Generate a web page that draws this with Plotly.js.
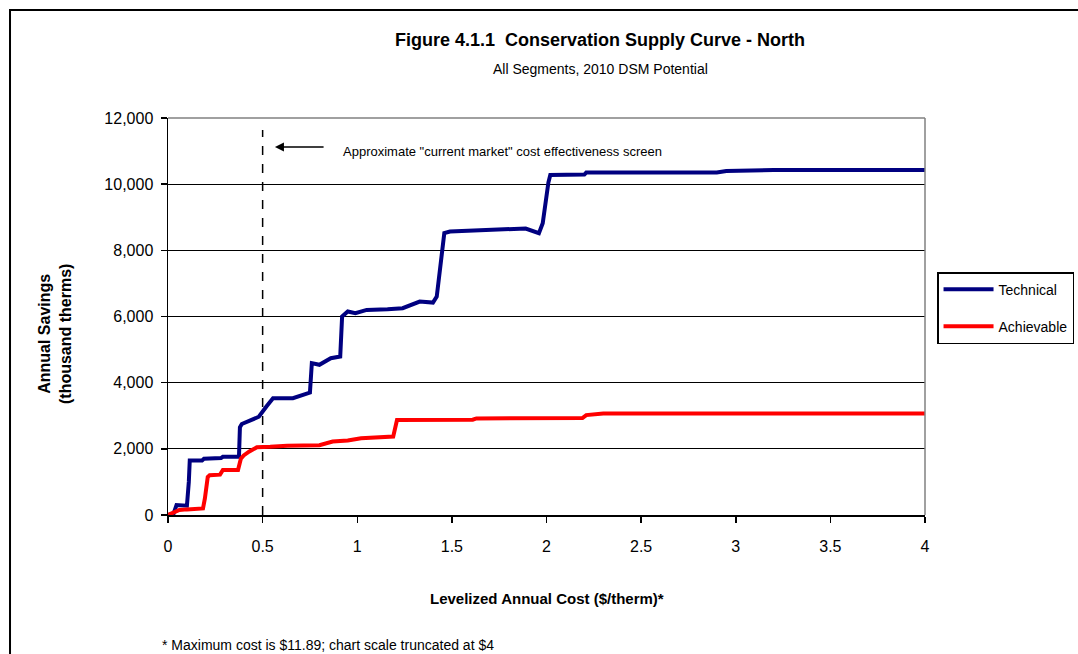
<!DOCTYPE html>
<html>
<head>
<meta charset="utf-8">
<script src="https://cdn.plot.ly/plotly-3.0.1.min.js"></script>
<style>html,body{margin:0;padding:0;background:#fff;}#chart{width:1078px;height:654px;}</style>
</head>
<body>
<div id="chart"></div>
<script>
// ---- Data ----
const techCost = [0, 0.03, 0.045, 0.10, 0.11, 0.115, 0.18, 0.19, 0.28, 0.29, 0.375, 0.38, 0.39, 0.42, 0.48, 0.52, 0.555, 0.66, 0.73, 0.75, 0.76, 0.80, 0.86, 0.91, 0.92, 0.95, 0.99, 1.05, 1.16, 1.24, 1.33, 1.40, 1.42, 1.46, 1.49, 1.74, 1.89, 1.96, 1.98, 2.01, 2.02, 2.20, 2.21, 2.90, 2.95, 3.20, 4.0];
const techSavings = [0, 50, 300, 280, 1000, 1650, 1650, 1700, 1720, 1760, 1760, 2650, 2750, 2820, 2970, 3280, 3530, 3530, 3680, 3700, 4590, 4540, 4740, 4790, 6000, 6150, 6100, 6200, 6220, 6250, 6450, 6420, 6600, 8520, 8570, 8610, 8660, 8520, 8820, 10050, 10280, 10290, 10350, 10350, 10400, 10430, 10430];

const achCost = [0, 0.06, 0.10, 0.185, 0.195, 0.21, 0.22, 0.275, 0.29, 0.37, 0.385, 0.40, 0.43, 0.47, 0.54, 0.63, 0.80, 0.87, 0.95, 1.02, 1.19, 1.20, 1.21, 1.61, 1.63, 2.19, 2.21, 2.30, 4.0];
const achSavings = [0, 150, 170, 200, 500, 1150, 1200, 1220, 1360, 1360, 1700, 1800, 1920, 2050, 2060, 2090, 2110, 2220, 2250, 2320, 2370, 2700, 2870, 2880, 2920, 2930, 3020, 3070, 3070];

const seriesNames = ["Technical", "Achievable"];
const screenCost = 0.5;
const xTickVals = [0, 0.5, 1, 1.5, 2, 2.5, 3, 3.5, 4];
const xTickText = ["0", "0.5", "1", "1.5", "2", "2.5", "3", "3.5", "4"];

const titleText = "Figure 4.1.1  Conservation Supply Curve - North";
const subtitleText = "All Segments, 2010 DSM Potential";
const xTitleText = "Levelized Annual Cost ($/therm)*";
const yTitleText = "Annual Savings<br>(thousand therms)";
const screenText = 'Approximate "current market" cost effectiveness screen';
const footnoteText = "* Maximum cost is $11.89; chart scale truncated at $4";

// ---- Plot ----
const FONT = "Liberation Sans, Arial, Helvetica, sans-serif";

const traces = [
  {x: techCost, y: techSavings, name: seriesNames[0], mode: "lines", type: "scatter",
   line: {color: "#000080", width: 4}, legendgroup: "a"},
  {x: achCost, y: achSavings, name: seriesNames[1], mode: "lines", type: "scatter",
   line: {color: "#ff0000", width: 4}, legendgroup: "b"}
];

const layout = {
  width: 1078, height: 654,
  margin: {l: 168, r: 153, t: 118, b: 139, autoexpand: false},
  paper_bgcolor: "#ffffff", plot_bgcolor: "#ffffff",
  font: {family: FONT, color: "#000", size: 16},
  title: {text: "<b>" + titleText + "</b>", font: {family: FONT, size: 18, color: "#000"},
          xref: "paper", x: 0.5707, xanchor: "center", yref: "container", y: 1 - 40/654, yanchor: "middle"},
  showlegend: true,
  legend: {x: 1.0159, xanchor: "left", y: 0.612, yanchor: "top",
           bordercolor: "#000", borderwidth: 1.5, bgcolor: "#fff",
           font: {family: FONT, size: 14, color: "#000"},
           traceorder: "grouped", tracegroupgap: 16, itemwidth: 50},
  xaxis: {range: [0, 4], tickvals: xTickVals, ticktext: xTickText,
          showgrid: false, zeroline: false, showline: true, linecolor: "#000", linewidth: 1.5,
          ticks: "outside", ticklen: 6, tickcolor: "#000", tickwidth: 1.5,
          ticklabelstandoff: 10, tickfont: {family: FONT, size: 16, color: "#000"}, fixedrange: true},
  yaxis: {range: [0, 12000], dtick: 2000, tickformat: ",d",
          showgrid: true, gridcolor: "#000", gridwidth: 1, zeroline: false,
          showline: true, linecolor: "#000", linewidth: 1.5,
          ticks: "outside", ticklen: 6, tickcolor: "#000", tickwidth: 1.5,
          ticklabelstandoff: 4, tickfont: {family: FONT, size: 16, color: "#000"}, fixedrange: true},
  shapes: [
    // outer chart frame (extends past the right and bottom edges of the picture)
    {type: "rect", xref: "paper", yref: "paper", x0: -0.2087, x1: 1.26, y0: -0.45, y1: 1.272,
     line: {color: "#000", width: 2}, fillcolor: "rgba(0,0,0,0)", layer: "below"},
    // plot-area border top & right (grey)
    {type: "line", xref: "paper", yref: "paper", x0: 0, x1: 1, y0: 1, y1: 1, line: {color: "#808080", width: 1.5}},
    {type: "line", xref: "paper", yref: "paper", x0: 1, x1: 1, y0: 0, y1: 1, line: {color: "#808080", width: 1.5}},
    // cost-effectiveness screen
    {type: "line", xref: "x", yref: "y", x0: screenCost, x1: screenCost, y0: 0, y1: 11640,
     line: {color: "#000", width: 1.5, dash: "dash"}}
  ],
  annotations: [
    {text: subtitleText, xref: "paper", yref: "paper", x: 0.5707, y: (515-69)/397, xanchor: "center", yanchor: "middle",
     showarrow: false, font: {family: FONT, size: 14, color: "#000"}},
    {text: "<b>" + xTitleText + "</b>", xref: "paper", yref: "paper", x: 0.5, y: (515-598)/397, xanchor: "center", yanchor: "middle",
     showarrow: false, font: {family: FONT, size: 15, color: "#000"}},
    {text: "<b>" + yTitleText + "</b>", xref: "paper", yref: "paper", x: (55-168)/757, y: (515-334)/397, xanchor: "center", yanchor: "middle",
     textangle: -90, showarrow: false, font: {family: FONT, size: 16, color: "#000"}},
    {text: "", xref: "x", yref: "y", x: 0.565, y: 11124, axref: "x", ayref: "y", ax: 0.83, ay: 11124,
     showarrow: true, arrowhead: 2, arrowsize: 1.2, arrowwidth: 1.5, arrowcolor: "#000"},
    {text: screenText, xref: "x", yref: "y", x: 0.914, y: 10973, xanchor: "left", yanchor: "middle",
     showarrow: false, font: {family: FONT, size: 13, color: "#000"}},
    {text: footnoteText, xref: "paper", yref: "paper", x: (160-168)/757, y: (515-645)/397, xanchor: "left", yanchor: "middle",
     showarrow: false, font: {family: FONT, size: 14, color: "#000"}}
  ]
};

Plotly.newPlot("chart", traces, layout, {displayModeBar: false, staticPlot: true});
</script>
</body>
</html>
